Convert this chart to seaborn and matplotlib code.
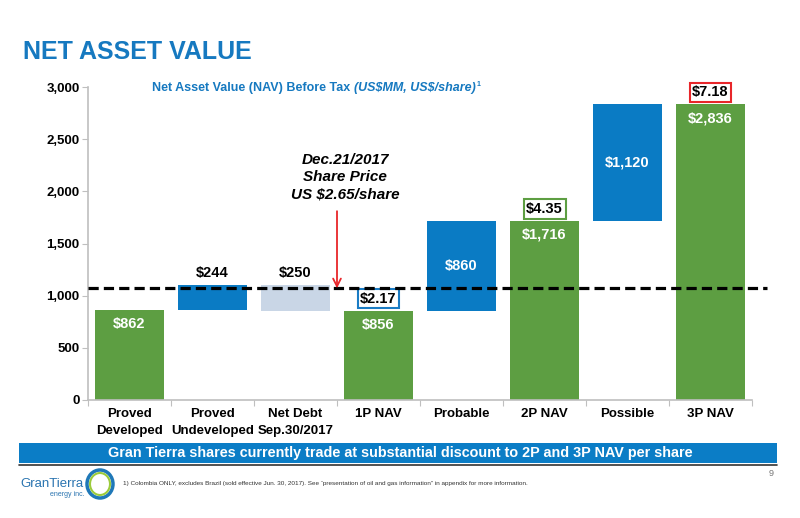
import matplotlib
matplotlib.use("Agg")
import matplotlib.pyplot as plt
import matplotlib.patches as mpatches
from matplotlib.ticker import FuncFormatter, FixedLocator
import numpy as np
import pandas as pd
import seaborn as sns

# chart data (US$MM)
categories = ['Proved\nDeveloped', 'Proved\nUndeveloped', 'Net Debt\nSep.30/2017',
              '1P NAV', 'Probable', '2P NAV', 'Possible', '3P NAV']
bar_bottom = [0, 862, 856, 0, 856, 0, 1716, 0]
bar_height = [862, 244, 250, 856, 860, 1716, 1120, 2836]
bar_kind = ['total', 'add', 'debt', 'total', 'add', 'total', 'add', 'total']
value_labels = ['$862', '$244', '$250', '$856', '$860', '$1,716', '$1,120', '$2,836']
label_pos = ['inside', 'above', 'above', 'inside', 'middle', 'inside', 'middle', 'inside']
per_share = {3: '$2.17', 5: '$4.35', 7: '$7.18'}
per_share_edge = {3: '#1a7cc4', 5: '#5d9e42', 7: '#e8262a'}
share_price_level = 1070
yticks = [0, 500, 1000, 1500, 2000, 2500, 3000]

GREEN = '#5d9e42'
BLUE = '#0a7bc4'
LIGHT = '#c9d6e6'
TITLE_BLUE = '#1679c0'
kind_colors = {'total': GREEN, 'add': BLUE, 'debt': LIGHT}

df = pd.DataFrame({'category': categories, 'height': bar_height,
                   'bottom': bar_bottom, 'kind': bar_kind})

sns.set_theme(style='white')
plt.rcParams['font.family'] = ['Liberation Sans', 'DejaVu Sans']
plt.rcParams['font.weight'] = 'bold'

fig = plt.figure(figsize=(8, 5.18), dpi=100)
ax = fig.add_axes([0.11, 0.2278, 0.83, 0.6042])

sns.barplot(data=df, x='category', y='height', order=categories, bottom=df['bottom'].values,
            width=0.83, errorbar=None, color=GREEN, linewidth=0, ax=ax)
for patch, kind in zip(ax.patches, bar_kind):
    patch.set_facecolor(kind_colors[kind])
    patch.set_edgecolor('none')

ax.set_ylim(0, 3000)
ax.set_xlim(-0.5, len(categories) - 0.5)
ax.set_xlabel('')
ax.set_ylabel('')
ax.yaxis.set_major_locator(FixedLocator(yticks))
ax.yaxis.set_major_formatter(FuncFormatter(lambda v, p: f'{int(v):,}'))
ax.tick_params(axis='y', labelsize=9.5, length=4, width=0.8, color='#bfbfbf', left=True, pad=2)
ax.tick_params(axis='x', which='major', labelsize=9.5, length=0, pad=6)
ax.set_xticks(np.arange(-0.5, len(categories), 1), minor=True)
ax.tick_params(axis='x', which='minor', length=4, width=0.8, color='#bfbfbf', bottom=True)
for lab in ax.get_xticklabels() + ax.get_yticklabels():
    lab.set_fontweight('bold')
    lab.set_color('black')
for lab in ax.get_xticklabels():
    lab.set_linespacing(1.5)
sns.despine(ax=ax)
for s in ['left', 'bottom']:
    ax.spines[s].set_color('#bfbfbf')
    ax.spines[s].set_linewidth(1.2)

# value labels
for i, (lab, pos) in enumerate(zip(value_labels, label_pos)):
    top = bar_bottom[i] + bar_height[i]
    if pos == 'inside':
        ax.annotate(lab, (i, top), xytext=(0, -5), textcoords='offset points',
                    ha='center', va='top', color='white', fontsize=10.5, fontweight='bold')
    elif pos == 'above':
        ax.annotate(lab, (i, top), xytext=(0, 3), textcoords='offset points',
                    ha='center', va='bottom', color='black', fontsize=10.5, fontweight='bold')
    else:
        ax.text(i, bar_bottom[i] + bar_height[i] / 2, lab, ha='center', va='center',
                color='white', fontsize=10.5, fontweight='bold')

# per-share boxes
for i, lab in per_share.items():
    top = bar_bottom[i] + bar_height[i]
    ax.annotate(lab, (i, top), xytext=(0, 3.5), textcoords='offset points',
                ha='center', va='bottom', color='black', fontsize=10.5, fontweight='bold',
                bbox=dict(boxstyle='square,pad=0.18', fc='white', ec=per_share_edge[i], lw=1.5))

# share price line
ax.axhline(share_price_level, xmin=0, xmax=1.0226, color='black', lw=2.3,
           linestyle=(0, (3.2, 1.6)), clip_on=False, zorder=5)

ax.annotate('', xy=(2.5, share_price_level), xytext=(2.5, 1810),
            arrowprops=dict(arrowstyle='->', color='#e8262a', lw=1.3,
                            mutation_scale=14, shrinkA=0, shrinkB=0), zorder=6)
ax.text(2.6, 2135, 'Dec.21/2017\nShare Price\nUS $2.65/share', ha='center', va='center',
        fontsize=11, fontweight='bold', fontstyle='italic', linespacing=1.3, color='black')

# titles
fig.text(23 / 800, 1 - 52 / 518, 'NET ASSET VALUE', color=TITLE_BLUE, fontsize=18,
         fontweight='bold', va='center', ha='left')

renderer = fig.canvas.get_renderer()
t1 = fig.text(152 / 800, 1 - 88 / 518, 'Net Asset Value (NAV) Before Tax ', color=TITLE_BLUE,
              fontsize=9, fontweight='bold', va='center', ha='left')
bb = t1.get_window_extent(renderer)
t2 = fig.text(bb.x1 / 800, 1 - 88 / 518, r'(US\$MM, US\$/share)', color=TITLE_BLUE,
              fontsize=9, fontweight='bold', fontstyle='italic', va='center', ha='left')
bb = t2.get_window_extent(renderer)
fig.text(bb.x1 / 800 + 0.001, 1 - 85 / 518, '1', color=TITLE_BLUE, fontsize=5,
         fontweight='bold', va='center', ha='left')

# bottom banner
fig.patches.append(mpatches.Rectangle((19 / 800, 1 - 463 / 518), (777 - 19) / 800, 20 / 518,
                                      transform=fig.transFigure, fc='#0b7dc6', ec='none'))
fig.lines.append(plt.Line2D([19 / 800, 777 / 800], [1 - 465 / 518, 1 - 465 / 518],
                            transform=fig.transFigure, color='#333333', lw=1.2))
fig.text(400 / 800, 1 - 453 / 518,
         'Gran Tierra shares currently trade at substantial discount to 2P and 3P NAV per share',
         color='white', fontsize=10.4, fontweight='bold', ha='center', va='center')

fig.text(123 / 800, 1 - 483 / 518,
         '1) Colombia ONLY, excludes Brazil (sold effective Jun. 30, 2017). See \u201cpresentation of oil '
         'and gas information\u201d in appendix for more information.',
         fontsize=4.6, fontweight='normal', color='#333333', ha='left', va='center')
fig.text(771 / 800, 1 - 474 / 518, '9', fontsize=6.5, fontweight='normal', color='#777777',
         ha='center', va='center')

# logo
fig.text(20 / 800, 1 - 484 / 518, 'GranTierra', color='#2a74b0', fontsize=9.5,
         fontweight='normal', ha='left', va='center')
fig.text(50 / 800, 1 - 495 / 518, 'energy inc.', color='#2a74b0', fontsize=5,
         fontweight='normal', ha='left', va='center')
fig.patches.append(mpatches.Ellipse((100 / 800, 1 - 484 / 518), 26 / 800, 28 / 518,
                                    transform=fig.transFigure, fc='none', ec='#1f78b8', lw=2.5))
fig.patches.append(mpatches.Ellipse((100 / 800, 1 - 484 / 518), 20 / 800, 22 / 518,
                                    transform=fig.transFigure, fc='none', ec='#9ccb3b', lw=1.5))

fig.savefig('out.png', dpi=100, facecolor='white')
